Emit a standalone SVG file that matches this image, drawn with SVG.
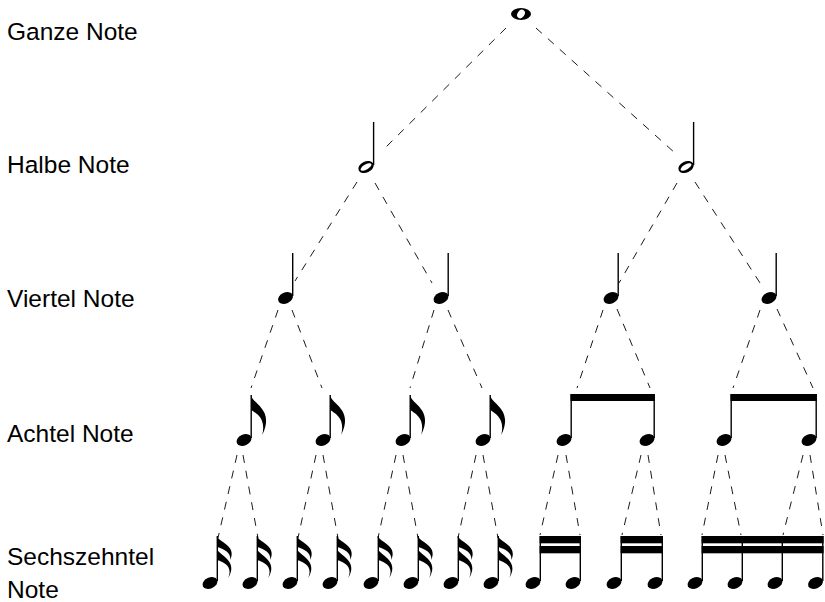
<svg xmlns="http://www.w3.org/2000/svg" width="825" height="602" viewBox="0 0 825 602">
<style>
.lbl{font-family:"Liberation Sans",Arial,sans-serif;font-size:24.5px;fill:#000}
.edge line{stroke:#1a1a1a;stroke-width:1;stroke-dasharray:8 8;fill:none}
.stem{stroke:#000;stroke-width:1.4}
.beam{fill:#000}
</style>
<defs>
<ellipse id="hd" rx="7.8" ry="5.4" transform="rotate(-25)" fill="#000"/>
<g id="hh"><ellipse rx="8" ry="5.6" transform="rotate(-25)" fill="#000"/><ellipse rx="6.2" ry="2.5" transform="rotate(-30)" fill="#fff"/></g>
<path id="f8" d="M0,0 C0.5,9 24,14 11,40 C15,24 6,19 0,15 Z" fill="#000"/>
<path id="f16" d="M0,0 C0.5,6 20,9 13,24 C14,16 6,13 0,11 Z M0,13 C0.5,19 22,24 11,42 C16,30 6,26 0,24 Z" fill="#000"/>
</defs>
<rect width="825" height="602" fill="#fff"/>

<g id="labels">
<text class="lbl" x="7" y="40">Ganze Note</text>
<text class="lbl" x="7" y="173">Halbe Note</text>
<text class="lbl" x="7" y="307">Viertel Note</text>
<text class="lbl" x="7" y="442">Achtel Note</text>
<text class="lbl" x="7" y="565">Sechszehntel</text>
<text class="lbl" x="7" y="598">Note</text>
</g>

<g id="connectors" class="edge">
<line x1="506" y1="28" x2="383" y2="150"/>
<line x1="536" y1="28" x2="675" y2="153"/>
<line x1="357" y1="182" x2="295" y2="281"/>
<line x1="375" y1="183" x2="432" y2="283"/>
<line x1="677" y1="183" x2="619" y2="283"/>
<line x1="695" y1="182" x2="760" y2="283"/>
<line x1="278" y1="310" x2="251" y2="388"/>
<line x1="292" y1="310" x2="322" y2="388"/>
<line x1="434" y1="310" x2="410" y2="388"/>
<line x1="448" y1="310" x2="482" y2="388"/>
<line x1="603" y1="310" x2="577" y2="388"/>
<line x1="617" y1="309" x2="650" y2="388"/>
<line x1="760" y1="310" x2="733" y2="388"/>
<line x1="777" y1="309" x2="813" y2="388"/>
<line x1="237" y1="455" x2="218" y2="538"/>
<line x1="243" y1="455" x2="258" y2="538"/>
<line x1="316" y1="455" x2="298" y2="538"/>
<line x1="323" y1="455" x2="338" y2="538"/>
<line x1="396" y1="455" x2="378" y2="538"/>
<line x1="403" y1="455" x2="418" y2="538"/>
<line x1="476" y1="455" x2="458" y2="538"/>
<line x1="483" y1="455" x2="498" y2="538"/>
<line x1="558" y1="455" x2="540" y2="535"/>
<line x1="566" y1="455" x2="580" y2="535"/>
<line x1="641" y1="455" x2="622" y2="535"/>
<line x1="648" y1="455" x2="661" y2="535"/>
<line x1="718" y1="455" x2="702" y2="535"/>
<line x1="725" y1="455" x2="741" y2="535"/>
<line x1="803" y1="455" x2="783" y2="535"/>
<line x1="810" y1="455" x2="823" y2="535"/>
</g>

<g id="whole">
<ellipse cx="521" cy="14" rx="10" ry="6" fill="#000"/>
<ellipse cx="521" cy="14" rx="3.4" ry="4.6" transform="rotate(35 521 14)" fill="#fff"/>
</g>

<g id="half1"><use href="#hh" x="366" y="167"/><line class="stem" x1="373.6" y1="122" x2="373.6" y2="165"/></g>
<g id="half2"><use href="#hh" x="686" y="167"/><line class="stem" x1="693.6" y1="122" x2="693.6" y2="165"/></g>

<g id="quarter1"><use href="#hd" x="285.5" y="298"/><line class="stem" x1="292.7" y1="253" x2="292.7" y2="296"/></g>
<g id="quarter2"><use href="#hd" x="441" y="298"/><line class="stem" x1="448.2" y1="253" x2="448.2" y2="296"/></g>
<g id="quarter3"><use href="#hd" x="611" y="298"/><line class="stem" x1="618.2" y1="253" x2="618.2" y2="296"/></g>
<g id="quarter4"><use href="#hd" x="769" y="298"/><line class="stem" x1="776.2" y1="253" x2="776.2" y2="296"/></g>

<g id="eighth1"><use href="#hd" x="244" y="440"/><line class="stem" x1="251.2" y1="395" x2="251.2" y2="438"/><use href="#f8" x="251.2" y="395"/></g>
<g id="eighth2"><use href="#hd" x="323" y="440"/><line class="stem" x1="330.2" y1="395" x2="330.2" y2="438"/><use href="#f8" x="330.2" y="395"/></g>
<g id="eighth3"><use href="#hd" x="403" y="440"/><line class="stem" x1="410.2" y1="395" x2="410.2" y2="438"/><use href="#f8" x="410.2" y="395"/></g>
<g id="eighth4"><use href="#hd" x="483" y="440"/><line class="stem" x1="490.2" y1="395" x2="490.2" y2="438"/><use href="#f8" x="490.2" y="395"/></g>

<g id="eighth-pair1">
<use href="#hd" x="564" y="440"/><line class="stem" x1="571.2" y1="394" x2="571.2" y2="438"/>
<use href="#hd" x="647" y="440"/><line class="stem" x1="654.2" y1="394" x2="654.2" y2="438"/>
<rect class="beam" x="570.5" y="394" width="84.4" height="7"/>
</g>
<g id="eighth-pair2">
<use href="#hd" x="724" y="440"/><line class="stem" x1="731.2" y1="394" x2="731.2" y2="438"/>
<use href="#hd" x="809" y="440"/><line class="stem" x1="816.2" y1="394" x2="816.2" y2="438"/>
<rect class="beam" x="730.5" y="394" width="86.4" height="7"/>
</g>

<g id="sixteenth1"><use href="#hd" x="210" y="583"/><line class="stem" x1="217.3" y1="536" x2="217.3" y2="581"/><use href="#f16" x="217.3" y="536"/></g>
<g id="sixteenth2"><use href="#hd" x="250" y="583"/><line class="stem" x1="257.3" y1="536" x2="257.3" y2="581"/><use href="#f16" x="257.3" y="536"/></g>
<g id="sixteenth3"><use href="#hd" x="290" y="583"/><line class="stem" x1="297.3" y1="536" x2="297.3" y2="581"/><use href="#f16" x="297.3" y="536"/></g>
<g id="sixteenth4"><use href="#hd" x="330" y="583"/><line class="stem" x1="337.3" y1="536" x2="337.3" y2="581"/><use href="#f16" x="337.3" y="536"/></g>
<g id="sixteenth5"><use href="#hd" x="371" y="583"/><line class="stem" x1="378.3" y1="536" x2="378.3" y2="581"/><use href="#f16" x="378.3" y="536"/></g>
<g id="sixteenth6"><use href="#hd" x="411" y="583"/><line class="stem" x1="418.3" y1="536" x2="418.3" y2="581"/><use href="#f16" x="418.3" y="536"/></g>
<g id="sixteenth7"><use href="#hd" x="451" y="583"/><line class="stem" x1="458.3" y1="536" x2="458.3" y2="581"/><use href="#f16" x="458.3" y="536"/></g>
<g id="sixteenth8"><use href="#hd" x="491" y="583"/><line class="stem" x1="498.3" y1="536" x2="498.3" y2="581"/><use href="#f16" x="498.3" y="536"/></g>

<g id="sixteenth-pair1">
<use href="#hd" x="533" y="583"/><line class="stem" x1="540.3" y1="536" x2="540.3" y2="581"/>
<use href="#hd" x="573" y="583"/><line class="stem" x1="580.3" y1="536" x2="580.3" y2="581"/>
<rect class="beam" x="539.6" y="536" width="41.4" height="7.3"/>
<rect class="beam" x="539.6" y="546" width="41.4" height="7.3"/>
</g>
<g id="sixteenth-pair2">
<use href="#hd" x="614" y="583"/><line class="stem" x1="621.3" y1="536" x2="621.3" y2="581"/>
<use href="#hd" x="655" y="583"/><line class="stem" x1="662.3" y1="536" x2="662.3" y2="581"/>
<rect class="beam" x="620.6" y="536" width="42.4" height="7.3"/>
<rect class="beam" x="620.6" y="546" width="42.4" height="7.3"/>
</g>
<g id="sixteenth-quad">
<use href="#hd" x="695" y="583"/><line class="stem" x1="702.3" y1="536" x2="702.3" y2="581"/>
<use href="#hd" x="735" y="583"/><line class="stem" x1="742.3" y1="536" x2="742.3" y2="581"/>
<use href="#hd" x="775" y="583"/><line class="stem" x1="782.3" y1="536" x2="782.3" y2="581"/>
<use href="#hd" x="815.5" y="583"/><line class="stem" x1="822.8" y1="536" x2="822.8" y2="581"/>
<rect class="beam" x="701.6" y="536" width="122" height="7.3"/>
<rect class="beam" x="701.6" y="546" width="122" height="7.3"/>
</g>
</svg>
